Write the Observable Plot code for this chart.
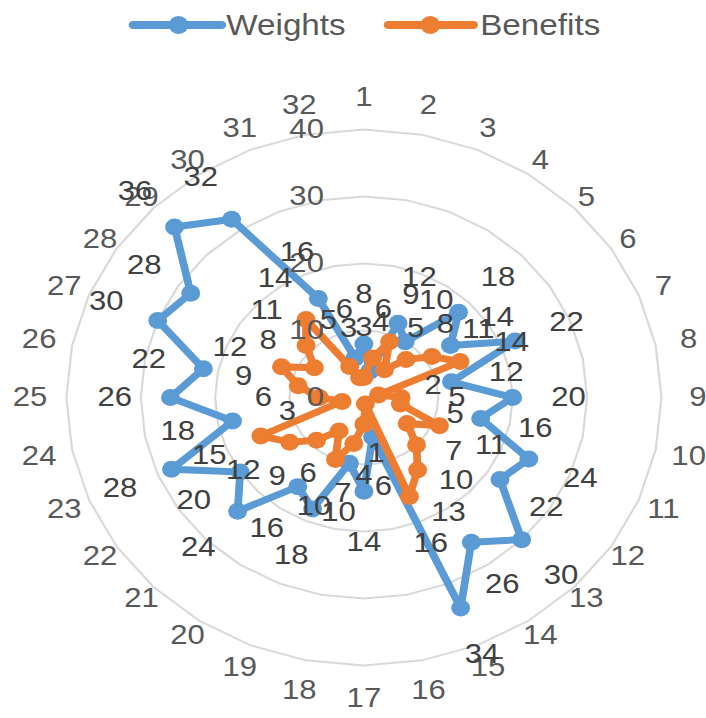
<!DOCTYPE html>
<html><head><meta charset="utf-8">
<script src="https://cdn.jsdelivr.net/npm/d3@7"></script>
<script src="https://cdn.jsdelivr.net/npm/@observablehq/plot@0.6"></script>
<style>
html,body{margin:0;padding:0;background:#fff;}
body{width:706px;height:718px;overflow:hidden;font-family:"Liberation Sans",Arial,sans-serif;}
#legend{width:636px;height:50px;transform:scaleX(1.109);transform-origin:0 0;}
#chart svg{display:block;}
</style></head>
<body>
<div id="legend"></div>
<div id="chart"></div>
<script>
const categories = ["1","2","3","4","5","6","7","8","9","10","11","12","13","14","15","16",
  "17","18","19","20","21","22","23","24","25","26","27","28","29","30","31","32"];
const weights  = [8,4,12,10,18,14,22,12,20,16,24,22,30,26,34,6,14,10,18,16,24,20,28,18,26,22,30,28,36,32,16,6];
const benefits = [3,6,9,5,8,11,14,2,5,5,11,7,10,13,16,1,4,7,10,6,9,12,15,3,6,9,12,8,11,14,5,3];
const gridValues = [10,20,30,40];
const axisTicks = [0,10,20,30,40];
const seriesNames = ["Weights","Benefits"];
const seriesColors = ["#5B9BD5","#ED7D31"];

const n = categories.length;
const ang = i => i * 2 * Math.PI / n;
const px = (i, r) => r * Math.sin(ang(i));
const py = (i, r) => r * Math.cos(ang(i));

const toRows = (vals, s) => vals.map((v, i) => ({i, v, s}));
const W = toRows(weights, seriesNames[0]);
const B = toRows(benefits, seriesNames[1]);
const closed = a => a.concat([a[0]]);
const grid = gridValues.flatMap(g => closed(categories.map((c, i) => ({g, i}))));

const labelFont = 28;
const txt = "#404040";
// category labels sit just outside the outer ring; the text box pushes them
// further out along the axes than along the diagonals
const catR = i => {
  const c = Math.cos(ang(i)), s = Math.sin(ang(i));
  return 42.3 + 2.6 * (2 * (c ** 4 + s ** 4) - 1);
};

const plot = Plot.plot({
  width: 636, height: 668, margin: 0,
  x: {domain: [-48.85, 46.07], axis: null},
  y: {domain: [-47.91, 51.79], axis: null},
  style: {fontFamily: '"Liberation Sans", Arial, sans-serif', background: "#fff"},
  marks: [
    Plot.line(grid, {x: d => px(d.i, d.g), y: d => py(d.i, d.g), z: "g", stroke: "#d9d9d9", strokeWidth: 2}),
    Plot.line(closed(W), {x: d => px(d.i, d.v), y: d => py(d.i, d.v), stroke: seriesColors[0], strokeWidth: 7, strokeLinejoin: "round", strokeLinecap: "round"}),
    Plot.dot(W, {x: d => px(d.i, d.v), y: d => py(d.i, d.v), r: 8.5, fill: seriesColors[0], stroke: "none"}),
    Plot.line(closed(B), {x: d => px(d.i, d.v), y: d => py(d.i, d.v), stroke: seriesColors[1], strokeWidth: 7, strokeLinejoin: "round", strokeLinecap: "round"}),
    Plot.dot(B, {x: d => px(d.i, d.v), y: d => py(d.i, d.v), r: 8.5, fill: seriesColors[1], stroke: "none"}),
    Plot.text(axisTicks, {x: 0, y: d => d, text: d => String(d), textAnchor: "end", dx: -36, fontSize: labelFont, fill: "#595959"}),
    Plot.text(categories, {x: (d, i) => px(i, catR(i)), y: (d, i) => py(i, catR(i)), text: d => d, fontSize: labelFont, fill: "#595959"}),
    Plot.text(W.concat(B), {x: d => px(d.i, d.v + 7.5), y: d => py(d.i, d.v + 7.5), text: d => String(d.v), fontSize: labelFont, fill: txt})
  ]
});
plot.setAttribute("width", 706);
plot.setAttribute("height", 668);
plot.setAttribute("preserveAspectRatio", "none");
plot.style.width = "706px";
plot.style.height = "668px";
plot.style.maxWidth = "none";
document.getElementById("chart").appendChild(plot);

// legend
const lg = d3.select("#legend").append("svg").attr("width", 636).attr("height", 50);
const items = [
  {x0: 120, x1: 200, cx: 161, tx: 204},
  {x0: 350, x1: 427, cx: 388, tx: 433}
];
items.forEach((it, k) => {
  lg.append("line").attr("x1", it.x0).attr("x2", it.x1).attr("y1", 25).attr("y2", 25)
    .attr("stroke", seriesColors[k]).attr("stroke-width", 8).attr("stroke-linecap", "round");
  lg.append("circle").attr("cx", it.cx).attr("cy", 25).attr("r", 9).attr("fill", seriesColors[k]);
  lg.append("text").attr("x", it.tx).attr("y", 35).text(seriesNames[k])
    .attr("font-size", 30).attr("fill", "#595959").attr("font-family", '"Liberation Sans", Arial, sans-serif');
});
</script>
</body></html>
